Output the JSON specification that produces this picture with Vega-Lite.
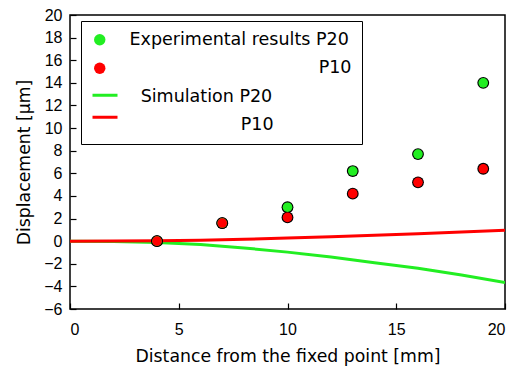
{
  "$schema": "https://vega.github.io/schema/vega-lite/v6.json",
  "width": 435,
  "height": 294,
  "autosize": {"type": "none"},
  "padding": {"left": 70, "top": 15, "right": 25, "bottom": 58},
  "background": "white",
  "config": {
    "view": {"stroke": "black", "strokeWidth": 1.5},
    "font": "DejaVu Sans",
    "axis": {
      "grid": false,
      "domain": false,
      "tickColor": "black",
      "tickSize": -6,
      "tickWidth": 1.2,
      "labelFont": "Liberation Sans",
      "labelFontSize": 16,
      "labelColor": "black",
      "titleFont": "DejaVu Sans",
      "titleFontSize": 17.3,
      "titleFontWeight": "normal",
      "titleColor": "black"
    }
  },
  "datasets": {
    "exp": [
      {"x": 4, "y": 0.0, "series": "Exp P20"},
      {"x": 7, "y": 1.6, "series": "Exp P20"},
      {"x": 10, "y": 3.0, "series": "Exp P20"},
      {"x": 13, "y": 6.2, "series": "Exp P20"},
      {"x": 16, "y": 7.7, "series": "Exp P20"},
      {"x": 19, "y": 14.0, "series": "Exp P20"},
      {"x": 4, "y": 0.0, "series": "Exp P10"},
      {"x": 7, "y": 1.6, "series": "Exp P10"},
      {"x": 10, "y": 2.1, "series": "Exp P10"},
      {"x": 13, "y": 4.2, "series": "Exp P10"},
      {"x": 16, "y": 5.2, "series": "Exp P10"},
      {"x": 19, "y": 6.4, "series": "Exp P10"}
    ],
    "sim": [
      {"x": 0, "y": 0.0, "model": "Sim P20"},
      {"x": 2, "y": -0.03, "model": "Sim P20"},
      {"x": 4, "y": -0.12, "model": "Sim P20"},
      {"x": 6, "y": -0.3, "model": "Sim P20"},
      {"x": 8, "y": -0.6, "model": "Sim P20"},
      {"x": 10, "y": -0.97, "model": "Sim P20"},
      {"x": 12, "y": -1.4, "model": "Sim P20"},
      {"x": 14, "y": -1.9, "model": "Sim P20"},
      {"x": 16, "y": -2.4, "model": "Sim P20"},
      {"x": 18, "y": -3.0, "model": "Sim P20"},
      {"x": 20, "y": -3.65, "model": "Sim P20"},
      {"x": 0, "y": 0.0, "model": "Sim P10"},
      {"x": 2, "y": 0.01, "model": "Sim P10"},
      {"x": 4, "y": 0.03, "model": "Sim P10"},
      {"x": 6, "y": 0.08, "model": "Sim P10"},
      {"x": 8, "y": 0.16, "model": "Sim P10"},
      {"x": 10, "y": 0.27, "model": "Sim P10"},
      {"x": 12, "y": 0.4, "model": "Sim P10"},
      {"x": 14, "y": 0.53, "model": "Sim P10"},
      {"x": 16, "y": 0.66, "model": "Sim P10"},
      {"x": 18, "y": 0.8, "model": "Sim P10"},
      {"x": 20, "y": 0.97, "model": "Sim P10"}
    ],
    "zero": [{"y": 0}]
  },
  "encoding": {
    "x": {
      "field": "x", "type": "quantitative",
      "scale": {"domain": [0, 20], "nice": false, "zero": false},
      "axis": {"values": [0, 5, 10, 15, 20], "labelPadding": 18, "title": "Distance from the fixed point [mm]", "titlePadding": 10}
    },
    "y": {
      "field": "y", "type": "quantitative",
      "scale": {"domain": [-6, 20], "nice": false, "zero": false},
      "axis": {"values": [-6, -4, -2, 0, 2, 4, 6, 8, 10, 12, 14, 16, 18, 20], "labelPadding": 14, "title": "Displacement [μm]", "titlePadding": 10}
    }
  },
  "layer": [
    {
      "data": {"name": "sim"},
      "mark": {"type": "line", "strokeWidth": 3, "clip": true},
      "encoding": {
        "stroke": {
          "field": "model", "type": "nominal",
          "scale": {"domain": ["Sim P20", "Sim P10"], "range": ["#22ee22", "#ff0000"]},
          "legend": {
            "orient": "none",
            "legendX": 11,
            "legendY": 56.25,
            "title": null,
            "padding": 10,
            "rowPadding": 2,
            "symbolType": "stroke",
            "symbolSize": 625,
            "symbolStrokeWidth": 3,
            "symbolOffset": 0,
            "labelFontSize": 1,
            "labelExpr": "''"
          }
        },
        "detail": {"field": "model"}
      }
    },
    {
      "data": {"name": "zero"},
      "mark": {"type": "rule", "color": "black", "strokeWidth": 1},
      "encoding": {"y": {"field": "y", "type": "quantitative"}}
    },
    {
      "data": {"name": "exp"},
      "mark": {"type": "point", "filled": true, "opacity": 1, "color": "black", "size": 140}
    },
    {
      "data": {"name": "exp"},
      "mark": {"type": "point", "filled": true, "opacity": 1, "strokeWidth": 0, "size": 92},
      "encoding": {
        "color": {
          "field": "series", "type": "nominal",
          "scale": {"domain": ["Exp P20", "Exp P10", "Sim P20", "Sim P10"], "range": ["#22ee22", "#ff0000", "rgba(255,255,255,0)", "rgba(255,255,255,0)"]},
          "legend": {
            "orient": "none",
            "legendX": 11,
            "legendY": 6,
            "title": null,
            "strokeColor": "black",
            "padding": 10,
            "rowPadding": 9.5,
            "labelFont": "DejaVu Sans",
            "labelFontSize": 17.5,
            "labelColor": "black",
            "labelLimit": 400,
            "symbolType": "circle",
            "symbolSize": 130,
            "symbolStrokeWidth": 0,
            "symbolOffset": 0,
            "labelOffset": 21,
            "labelExpr": "datum.value == 'Exp P20' ? 'Experimental results P20' : datum.value == 'Exp P10' ? '\u200b\u00a0\u00a0\u00a0\u00a0\u00a0\u00a0\u00a0\u00a0\u00a0\u00a0\u00a0\u00a0\u00a0\u00a0\u00a0\u00a0\u00a0\u00a0\u00a0\u00a0\u00a0\u00a0\u00a0\u00a0\u00a0\u00a0\u00a0\u00a0\u00a0\u00a0\u00a0\u00a0\u00a0\u00a0P10' : datum.value == 'Sim P20' ? '\u200b\u00a0\u00a0Simulation P20' : '\u200b\u00a0\u00a0\u00a0\u00a0\u00a0\u00a0\u00a0\u00a0\u00a0\u00a0\u00a0\u00a0\u00a0\u00a0\u00a0\u00a0\u00a0\u00a0\u00a0\u00a0P10'"
          }
        }
      }
    }
  ]
}
